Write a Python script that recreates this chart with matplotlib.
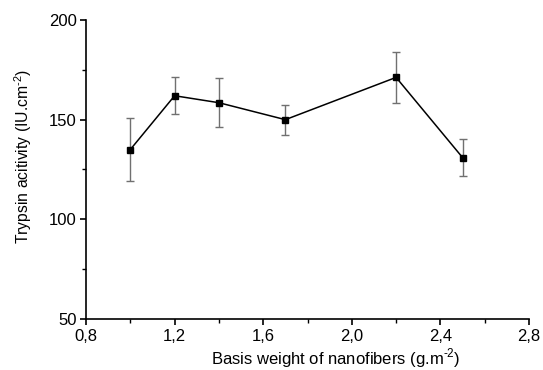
import matplotlib.pyplot as plt
from matplotlib.ticker import MultipleLocator, FuncFormatter

plt.rcParams["font.family"] = ["Liberation Sans", "DejaVu Sans"]
plt.rcParams["mathtext.fontset"] = "custom"
plt.rcParams["mathtext.rm"] = "Liberation Sans"

# basis weight (g.m-2) and trypsin activity (IU.cm-2)
basis_weight = [1.0, 1.2, 1.4, 1.7, 2.2, 2.5]
activity = [135.0, 162.0, 158.5, 150.0, 171.2, 131.0]
activity_err = [16.0, 9.3, 12.2, 7.6, 12.7, 9.4]


def comma_fmt(v, pos):
    return f"{v:.1f}".replace(".", ",")


fig = plt.figure(figsize=(5.43, 3.70), dpi=100)
ax = fig.add_axes([0.1584, 0.1378, 0.8158, 0.8082])

ax.errorbar(basis_weight, activity, yerr=activity_err, fmt="none",
            ecolor="#707070", elinewidth=1.0, capsize=3, capthick=1.0, zorder=2)
ax.plot(basis_weight, activity, color="black", lw=1.1, marker="s",
        markersize=5, markerfacecolor="black", zorder=3)

ax.set_xlim(0.8, 2.8)
ax.set_ylim(50, 200)
ax.xaxis.set_major_locator(MultipleLocator(0.4))
ax.xaxis.set_minor_locator(MultipleLocator(0.2))
ax.yaxis.set_major_locator(MultipleLocator(50))
ax.yaxis.set_minor_locator(MultipleLocator(25))
ax.xaxis.set_major_formatter(FuncFormatter(comma_fmt))

for side in ("top", "right"):
    ax.spines[side].set_visible(False)
for side in ("left", "bottom"):
    ax.spines[side].set_linewidth(1.2)

ax.tick_params(which="major", direction="out", length=4.5, width=1.2, labelsize=12)
ax.tick_params(axis="x", which="major", pad=3)
ax.tick_params(axis="y", which="major", pad=2)
ax.tick_params(which="minor", direction="out", length=3, width=1.0)

ax.set_xlabel(r"Basis weight of nanofibers (g.m$^{\text{-2}}$)", fontsize=12)
ax.set_ylabel(r"Trypsin acitivity (IU.cm$^{\text{-2}}$)", fontsize=11.3)
ax.xaxis.label.set_va("baseline")
ax.xaxis.set_label_coords(0.563, -0.152)
ax.yaxis.label.set_va("center")
ax.yaxis.set_label_coords(-0.143, 0.543)

fig.savefig("out.png", dpi=100)
